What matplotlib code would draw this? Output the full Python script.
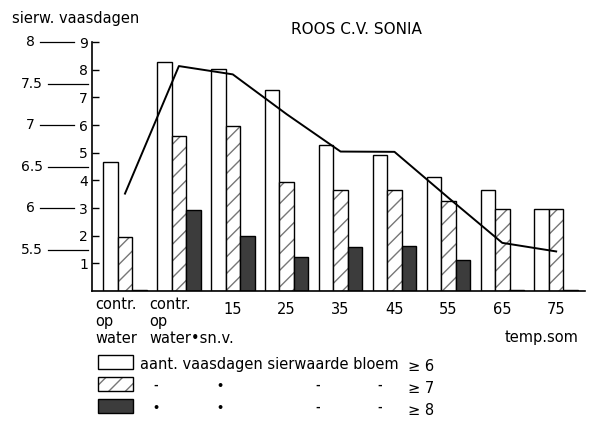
import matplotlib
matplotlib.use("Agg")
from matplotlib import pyplot as plt
from matplotlib import transforms
from matplotlib.patches import Rectangle
import numpy as np

# groups on the x axis
groups = ["contr.\nop\nwater", "contr.\nop\nwater•sn.v.", "15", "25", "35", "45", "55", "65", "75"]

# aantal vaasdagen with sierwaarde >= 6, >= 7, >= 8 (inner scale 0-9)
white = [4.65, 8.26, 8.01, 7.26, 5.26, 4.91, 4.13, 3.64, 2.96]
hatched = [1.94, 5.62, 5.95, 3.95, 3.66, 3.64, 3.25, 2.96, 2.96]
dark = [0.05, 2.91, 1.97, 1.22, 1.59, 1.62, 1.12, 0.05, 0.05]
# line on the same inner scale
line = [3.52, 8.13, 7.83, 6.39, 5.04, 5.03, 3.37, 1.74, 1.43]

# outer scale (sierw.) next to the inner one
outer_vals = [8, 7.5, 7, 6.5, 6, 5.5]

W, H = 597, 423
def fx(px):
    return px / W
def fy(py):
    return 1 - py / H

FS = 10.5
plt.rcParams['font.family'] = ['DejaVu Sans']
fig = plt.figure(figsize=(W / 100, H / 100), dpi=100)
ax = fig.add_axes([fx(92), fy(291), 493 / W, 249 / H])

x = np.arange(len(groups))
bw = 0.269
ax.bar(x - bw, white, bw, color='white', edgecolor='black', linewidth=1.0)
ax.bar(x, hatched, bw, color='white', edgecolor='#777777', hatch='//', linewidth=0)
ax.bar(x, hatched, bw, fill=False, edgecolor='black', linewidth=1.0)
ax.bar(x + bw, dark, bw, color='#3c3c3c', edgecolor='black', linewidth=1.0)
ax.plot(x, line, color='black', linewidth=1.4)

ax.set_xlim(-0.612, 8.535)
ax.set_ylim(0, 9)
for s in ['top', 'right']:
    ax.spines[s].set_visible(False)
ax.spines['left'].set_linewidth(1.2)
ax.spines['bottom'].set_linewidth(1.2)
ax.set_xticks([])
ax.set_yticks(range(1, 10))
ax.tick_params(axis='y', direction='in', length=5, pad=3, labelsize=FS - 0.5, width=1)

def axx(px):
    return (px - 92) / 493

ytr = ax.get_yaxis_transform()
for v in outer_vals:
    yv = 3 * (v - 5)
    if v == int(v):
        ax.text(axx(35), yv, str(int(v)), transform=ytr, ha='right', va='center', fontsize=FS - 0.5)
        ax.plot([axx(40), axx(74)], [yv, yv], transform=ytr, color='black', lw=0.9, clip_on=False)
    else:
        ax.text(axx(43), yv, str(v), transform=ytr, ha='right', va='center', fontsize=FS - 0.5)
        ax.plot([axx(48), axx(88)], [yv, yv], transform=ytr, color='black', lw=0.9, clip_on=False)

# category labels, one text per line
xtr = transforms.blended_transform_factory(ax.transData, fig.transFigure)
for i, g in enumerate(groups):
    if i < 2:
        for k, part in enumerate(g.split("\n")):
            ax.text(i - 0.55, fy(304 + 17 * k), part, transform=xtr, ha='left', va='center', fontsize=FS)
    else:
        ax.text(i, fy(309), g, transform=xtr, ha='center', va='center', fontsize=FS)
ax.text(7.05, fy(337), "temp.som", transform=xtr, ha='left', va='center', fontsize=FS)

fig.text(fx(12), fy(19), "sierw. vaasdagen", ha='left', va='center', fontsize=FS)
fig.text(fx(356), fy(29), "ROOS C.V. SONIA", ha='center', va='center', fontsize=FS + 0.5)

# legend
rows = [362, 384, 406]
fig.patches.append(Rectangle((fx(98), fy(rows[0] + 7)), 35 / W, 14 / H, transform=fig.transFigure,
                             facecolor='white', edgecolor='black', lw=1.0))
fig.patches.append(Rectangle((fx(98), fy(rows[1] + 7)), 35 / W, 14 / H, transform=fig.transFigure,
                             facecolor='white', edgecolor='#777777', hatch='//', lw=0))
fig.patches.append(Rectangle((fx(98), fy(rows[1] + 7)), 35 / W, 14 / H, transform=fig.transFigure,
                             fill=False, edgecolor='black', lw=1.0))
fig.patches.append(Rectangle((fx(98), fy(rows[2] + 7)), 35 / W, 14 / H, transform=fig.transFigure,
                             facecolor='#3c3c3c', edgecolor='black', lw=1.0))
fig.text(fx(140), fy(rows[0] + 2), "aant. vaasdagen sierwaarde bloem", ha='left', va='center', fontsize=FS)
for r, lab, marks in [(rows[0], "≥ 6", None), (rows[1], "≥ 7", ['-', '•', '-', '-']),
                      (rows[2], "≥ 8", ['•', '•', '-', '-'])]:
    fig.text(fx(408), fy(r + 4), lab, ha='left', va='center', fontsize=FS)
    if marks:
        for mx, m in zip([156, 220, 318, 380], marks):
            fig.text(fx(mx), fy(r + 2), m, ha='center', va='center', fontsize=8, fontweight='bold')

fig.savefig("out.png", dpi=100)
